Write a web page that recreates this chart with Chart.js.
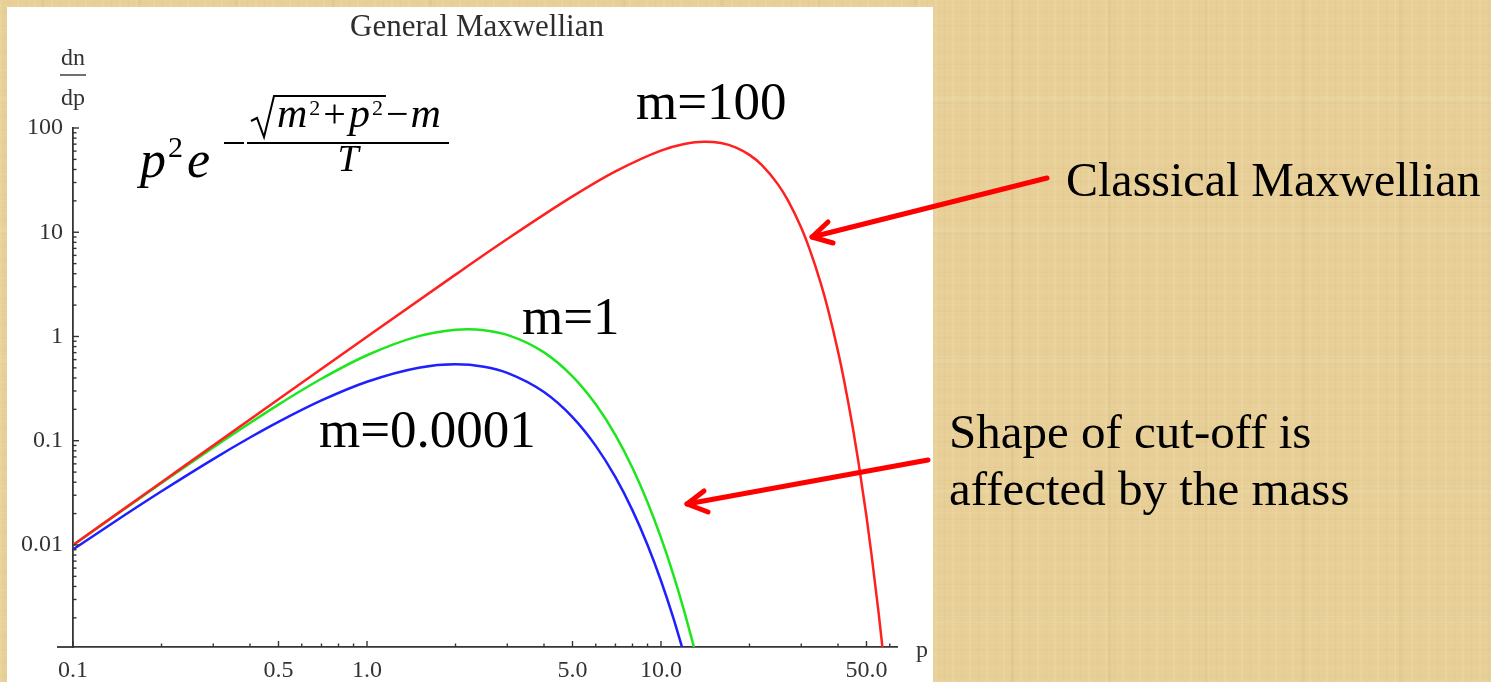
<!DOCTYPE html>
<html>
<head>
<meta charset="utf-8">
<title>General Maxwellian</title>
<script src="https://cdn.jsdelivr.net/npm/chart.js@4.4.1/dist/chart.umd.min.js"></script>
<style>
  html, body { margin: 0; padding: 0; }
  body {
    width: 1491px; height: 682px; overflow: hidden;
    background-color: #e7cf97;
    background-image:
      repeating-linear-gradient(90deg, rgba(255,250,225,0.10) 0 2px, rgba(0,0,0,0) 2px 9px, rgba(150,110,40,0.045) 9px 10px, rgba(0,0,0,0) 10px 17px),
      repeating-linear-gradient(0deg, rgba(255,250,225,0.08) 0 1px, rgba(0,0,0,0) 1px 6px, rgba(150,110,40,0.04) 6px 7px, rgba(0,0,0,0) 7px 13px),
      repeating-linear-gradient(90deg, rgba(0,0,0,0) 0 41px, rgba(140,100,30,0.05) 41px 44px, rgba(0,0,0,0) 44px 97px),
      repeating-linear-gradient(0deg, rgba(0,0,0,0) 0 57px, rgba(255,245,215,0.10) 57px 61px, rgba(0,0,0,0) 61px 131px);
  }
  canvas { display: block; position: absolute; left: 0; top: 0; }
</style>
</head>
<body>
<canvas id="chart" width="1491" height="682"></canvas>
<script>
// Momentum p (T = 1) and dn/dp for each mass
const pMassless = [0.1, 0.15, 0.2, 0.3, 0.4, 0.5, 0.7, 1, 1.5, 2, 2.5, 3, 4, 5, 6, 7, 8, 9, 10, 11, 12];
const nMassless = [0.00905, 0.01937, 0.03275, 0.06667, 0.1073, 0.1516, 0.2433, 0.3679, 0.5020, 0.5413, 0.5130, 0.4481, 0.2931, 0.1685, 0.08924, 0.04468, 0.02147, 0.01000, 0.00454, 0.00202, 0.000885];

const pMassOne = [0.1, 0.15, 0.2, 0.3, 0.4, 0.5, 0.7, 1, 1.5, 2, 2.2, 2.5, 3, 4, 5, 6, 7, 8, 9, 10, 11, 12, 13];
const nMassOne = [0.00995, 0.02225, 0.03922, 0.08612, 0.1481, 0.2222, 0.3930, 0.6609, 1.008, 1.162, 1.174, 1.150, 1.036, 0.7044, 0.4149, 0.2235, 0.1132, 0.05484, 0.02572, 0.01174, 0.00525, 0.00231, 0.00100];

const pMassHundred = [0.1, 0.2, 0.5, 1, 2, 3, 5, 7, 10, 12, 14, 16, 18, 20, 22, 25, 27, 30, 32, 35, 37, 40, 42, 45, 47, 50, 52, 55, 57, 58];
const nMassHundred = [0.0100, 0.0400, 0.2497, 0.9950, 3.921, 8.604, 22.06, 38.36, 60.73, 70.27, 73.91, 71.75, 64.95, 55.21, 44.29, 28.80, 20.30, 11.02, 6.933, 3.198, 1.816, 0.7221, 0.3728, 0.1294, 0.06117, 0.01873, 0.008131, 0.002215, 0.000895, 0.000560];

// Axis ticks
const xTickValues = [0.1, 0.5, 1, 5, 10, 50];
const xTickLabels = ['0.1', '0.5', '1.0', '5.0', '10.0', '50.0'];
const xMinorTicks = [0.2, 0.3, 0.4, 0.6, 0.7, 0.8, 0.9, 2, 3, 4, 6, 7, 8, 9, 20, 30, 40, 60];
const yTickValues = [0.01, 0.1, 1, 10, 100];
const yTickLabels = ['0.01', '0.1', '1', '10', '100'];
const yMinorTicks = [
  0.002, 0.003, 0.004, 0.005, 0.006, 0.007, 0.008, 0.009,
  0.02, 0.03, 0.04, 0.05, 0.06, 0.07, 0.08, 0.09,
  0.2, 0.3, 0.4, 0.5, 0.6, 0.7, 0.8, 0.9,
  2, 3, 4, 5, 6, 7, 8, 9,
  20, 30, 40, 50, 60, 70, 80, 90
];

const series = [
  { label: 'm=100', p: pMassHundred, n: nMassHundred, color: '#ff2020' },
  { label: 'm=1', p: pMassOne, n: nMassOne, color: '#1ee61e' },
  { label: 'm=0.0001', p: pMassless, n: nMassless, color: '#2020ff' }
];

const AXIS = '#353535';
const SERIF = '"Liberation Serif", "Times New Roman", serif';

function line(ctx, x1, y1, x2, y2) {
  ctx.beginPath(); ctx.moveTo(x1, y1); ctx.lineTo(x2, y2); ctx.stroke();
}

function arrow(ctx, from, tip, wingA, wingB) {
  ctx.save();
  ctx.strokeStyle = '#ff0000';
  ctx.lineWidth = 5;
  ctx.lineCap = 'round';
  ctx.lineJoin = 'round';
  line(ctx, from[0], from[1], tip[0], tip[1]);
  ctx.beginPath();
  ctx.moveTo(wingA[0], wingA[1]); ctx.lineTo(tip[0], tip[1]); ctx.lineTo(wingB[0], wingB[1]);
  ctx.stroke();
  ctx.restore();
}

function drawFormula(ctx) {
  ctx.save();
  ctx.fillStyle = '#000';
  ctx.strokeStyle = '#000';
  ctx.textAlign = 'left';
  ctx.textBaseline = 'alphabetic';
  const big = 'italic 52px ' + SERIF;
  const sup = '30px ' + SERIF;
  // p^2 e
  ctx.font = big; ctx.fillText('p', 140, 177);
  ctx.font = sup; ctx.fillText('2', 168, 157);
  ctx.font = big; ctx.fillText('e', 187, 177);
  // exponent: minus and fraction bar
  ctx.lineWidth = 2;
  line(ctx, 224, 143, 244, 143);
  line(ctx, 247, 143, 449, 143);
  // numerator  √(m²+p²) − m
  const num = 'italic 42px ' + SERIF;
  const up = '40px ' + SERIF;
  const small = '22px ' + SERIF;
  let x = 277;
  const base = 127, supBase = 115;
  ctx.font = num; ctx.fillText('m', x, base); x += ctx.measureText('m').width + 2;
  ctx.font = small; ctx.fillText('2', x, supBase); x += ctx.measureText('2').width + 3;
  ctx.font = up; ctx.fillText('+', x, base); x += ctx.measureText('+').width + 3;
  ctx.font = num; ctx.fillText('p', x, base); x += ctx.measureText('p').width + 2;
  ctx.font = small; ctx.fillText('2', x, supBase); x += ctx.measureText('2').width + 3;
  const rootEnd = x;
  ctx.font = up; ctx.fillText('\u2212', x, base); x += ctx.measureText('\u2212').width + 2;
  ctx.font = num; ctx.fillText('m', x, base);
  // radical sign
  ctx.lineWidth = 2;
  ctx.beginPath();
  ctx.moveTo(251, 121); ctx.lineTo(257, 118); ctx.lineTo(264, 137);
  ctx.lineTo(274, 96); ctx.lineTo(rootEnd, 96);
  ctx.stroke();
  // denominator
  ctx.font = 'italic 38px ' + SERIF;
  ctx.textAlign = 'center';
  ctx.fillText('T', 348, 171);
  ctx.restore();
}

const decor = {
  id: 'decor',
  beforeDraw(chart) {
    const ctx = chart.ctx;
    ctx.save();
    ctx.fillStyle = '#ffffff';
    ctx.fillRect(7, 7, 926, 675);
    ctx.restore();
  },
  afterDraw(chart) {
    const ctx = chart.ctx;
    const xs = chart.scales.x, ys = chart.scales.y;
    const area = chart.chartArea;
    ctx.save();
    ctx.strokeStyle = AXIS;
    ctx.lineWidth = 1.8;
    // axis line reaches a little past the vertical axis
    line(ctx, area.left - 16, area.bottom, area.left, area.bottom);
    ctx.lineWidth = 1.4;
    // inward ticks
    xTickValues.forEach(v => { const px = xs.getPixelForValue(v); line(ctx, px, area.bottom, px, area.bottom - 6); });
    xMinorTicks.forEach(v => { const px = xs.getPixelForValue(v); line(ctx, px, area.bottom, px, area.bottom - 3.5); });
    yTickValues.forEach(v => { const py = ys.getPixelForValue(v); line(ctx, area.left, py, area.left + 6, py); });
    yMinorTicks.forEach(v => { const py = ys.getPixelForValue(v); line(ctx, area.left, py, area.left + 3.5, py); });

    // axis names
    ctx.fillStyle = '#333';
    ctx.textAlign = 'center';
    ctx.textBaseline = 'alphabetic';
    ctx.font = '24px ' + SERIF;
    ctx.fillText('dn', 73, 65);
    ctx.fillText('dp', 73, 105);
    ctx.lineWidth = 1.4;
    ctx.strokeStyle = '#333';
    line(ctx, 60, 75, 86, 75);
    ctx.textAlign = 'left';
    ctx.fillText('p', 916, 657);

    // title
    ctx.textAlign = 'center';
    ctx.font = '31px ' + SERIF;
    ctx.fillStyle = '#2e2e2e';
    ctx.fillText('General Maxwellian', 477, 36);

    // curve labels
    ctx.fillStyle = '#000';
    ctx.textAlign = 'left';
    ctx.font = '53px ' + SERIF;
    ctx.fillText('m=100', 636, 119);
    ctx.fillText('m=1', 522, 334);
    ctx.fillText('m=0.0001', 319, 447);

    // side notes
    ctx.font = '48px ' + SERIF;
    ctx.fillText('Classical Maxwellian', 1066, 196);
    ctx.font = '49px ' + SERIF;
    ctx.fillText('Shape of cut-off is', 949, 448);
    ctx.fillText('affected by the mass', 949, 505);
    ctx.restore();

    drawFormula(ctx);

    arrow(ctx, [1047, 178], [812, 237], [828, 222], [833, 243]);
    arrow(ctx, [928, 460], [687, 504], [704, 491], [708, 512]);
  }
};

new Chart(document.getElementById('chart'), {
  type: 'line',
  data: {
    datasets: series.map(s => ({
      label: s.label,
      data: s.p.map((p, i) => ({ x: p, y: s.n[i] })),
      borderColor: s.color,
      borderWidth: 2.5,
      pointRadius: 0,
      fill: false,
      cubicInterpolationMode: 'monotone'
    }))
  },
  options: {
    responsive: false,
    animation: false,
    devicePixelRatio: 1,
    layout: { padding: { top: 128, right: 594, left: 0, bottom: 0 } },
    plugins: { legend: { display: false }, tooltip: { enabled: false }, title: { display: false } },
    scales: {
      x: {
        type: 'logarithmic',
        min: 0.1,
        max: 63.5,
        afterFit: (scale) => { scale.height = 35; },
        afterBuildTicks: (scale) => { scale.ticks = xTickValues.map(v => ({ value: v })); },
        grid: { display: true, drawOnChartArea: false, drawTicks: false },
        border: { display: true, color: AXIS, width: 1.8 },
        ticks: {
          autoSkip: false, maxRotation: 0, minRotation: 0, padding: 9,
          color: '#333', font: { family: 'Liberation Serif', size: 24 },
          callback: (value, index) => xTickLabels[index]
        }
      },
      y: {
        type: 'logarithmic',
        min: 0.00105,
        max: 100,
        afterFit: (scale) => { scale.width = 73; },
        afterBuildTicks: (scale) => { scale.ticks = yTickValues.map(v => ({ value: v })); },
        grid: { display: true, drawOnChartArea: false, drawTicks: false },
        border: { display: true, color: AXIS, width: 1.8 },
        ticks: {
          autoSkip: false, padding: 10,
          color: '#333', font: { family: 'Liberation Serif', size: 24 },
          callback: (value, index) => yTickLabels[index]
        }
      }
    }
  },
  plugins: [decor]
});
</script>
</body>
</html>
